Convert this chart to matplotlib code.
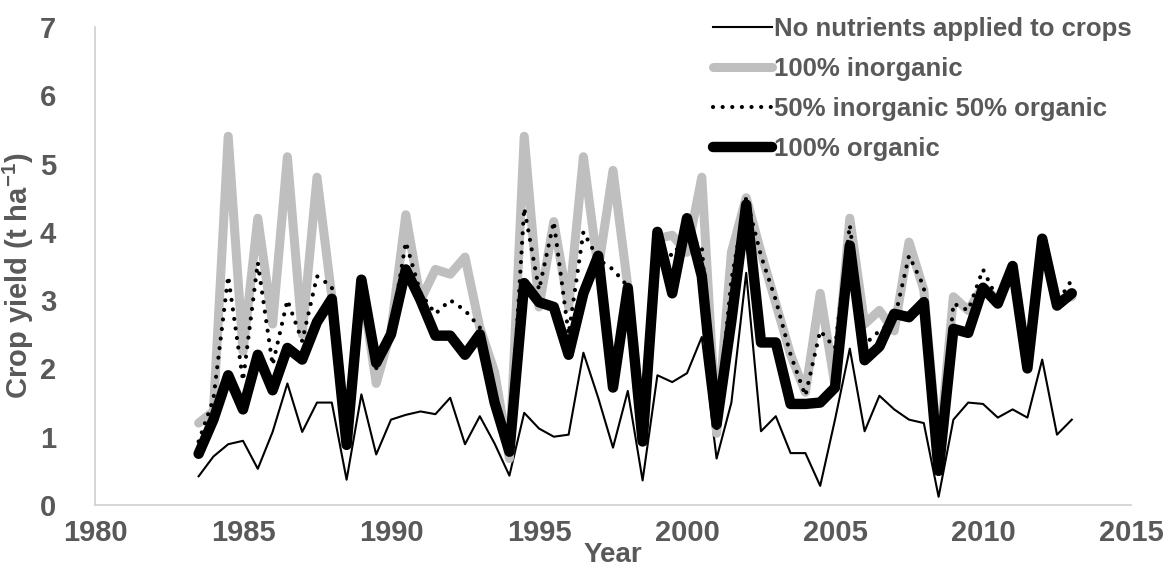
import numpy as np
import matplotlib
matplotlib.use("Agg")
import matplotlib.pyplot as plt

plt.rcParams['font.family'] = ['Liberation Sans', 'DejaVu Sans']
plt.rcParams['font.weight'] = 'bold'
plt.rcParams['mathtext.fontset'] = 'custom'
plt.rcParams['mathtext.rm'] = 'Liberation Sans:bold'
plt.rcParams['mathtext.default'] = 'rm'

# Two cropping seasons per year, 1983.5 to 2013.0
seasons = np.arange(1983.5, 2013.01, 0.5)

no_nutrients = [0.42, 0.71, 0.89, 0.94, 0.53, 1.07, 1.78, 1.07, 1.50, 1.50,
                0.37, 1.62, 0.74, 1.25, 1.32, 1.37, 1.33, 1.57, 0.89, 1.30,
                0.90, 0.43, 1.35, 1.12, 1.00, 1.03, 2.23, 1.57, 0.84, 1.67,
                0.36, 1.90, 1.80, 1.93, 2.46, 0.68, 1.50, 3.40, 1.08, 1.30,
                0.76, 0.76, 0.28, 1.25, 2.29, 1.08, 1.60, 1.40, 1.25, 1.20,
                0.12, 1.25, 1.50, 1.48, 1.28, 1.40, 1.28, 2.13, 1.03, 1.25]

inorganic_100 = [1.20, 1.37, 5.40, 2.25, 4.20, 2.65, 5.10, 2.50, 4.80, 3.05,
                 0.90, 3.25, 1.78, 2.55, 4.25, 3.00, 3.45, 3.38, 3.63, 2.60,
                 1.95, 0.68, 5.40, 2.90, 4.15, 2.90, 5.10, 3.45, 4.90, 3.20,
                 0.95, 3.90, 3.95, 3.70, 4.80, 1.05, 3.70, 4.50, 3.70, 2.95,
                 2.20, 1.65, 3.10, 1.75, 4.20, 2.65, 2.85, 2.55, 3.85, 3.15,
                 0.70, 3.05, 2.85, 3.20, 3.00, 3.50, 2.00, 3.90, 3.00, 3.05]

mixed_50_50 = [0.93, 1.55, 3.35, 1.82, 3.55, 2.05, 3.00, 2.40, 3.35, 3.20,
               0.90, 3.25, 2.00, 2.55, 3.85, 3.10, 2.80, 3.00, 2.85, 2.60,
               1.60, 0.78, 4.35, 3.15, 4.15, 2.50, 4.00, 3.60, 3.45, 3.20,
               0.92, 3.80, 3.65, 3.95, 3.78, 1.10, 3.30, 4.50, 3.65, 3.00,
               2.20, 1.60, 2.55, 2.30, 4.10, 2.35, 2.55, 2.70, 3.65, 3.20,
               0.55, 2.95, 2.85, 3.45, 3.00, 3.50, 2.00, 3.90, 2.95, 3.30]

organic_100 = [0.75, 1.25, 1.90, 1.40, 2.20, 1.68, 2.30, 2.13, 2.68, 3.02,
               0.88, 3.30, 2.08, 2.50, 3.45, 3.00, 2.48, 2.48, 2.20, 2.50,
               1.50, 0.78, 3.25, 2.97, 2.90, 2.20, 3.10, 3.65, 1.72, 3.18,
               0.93, 4.00, 3.10, 4.20, 3.35, 1.18, 2.70, 4.40, 2.38, 2.38,
               1.48, 1.48, 1.50, 1.72, 3.80, 2.12, 2.32, 2.80, 2.75, 2.97,
               0.50, 2.58, 2.52, 3.18, 2.95, 3.50, 2.00, 3.90, 2.92, 3.10]

labels = ["No nutrients applied to crops", "100% inorganic",
          "50% inorganic 50% organic", "100% organic"]

TEXT = '#595959'
AXIS = '#d0d0d0'
W, H = 1164, 570

fig = plt.figure(figsize=(W / 100, H / 100), dpi=100)
ax = fig.add_axes([95 / W, 1 - 505 / H, (1131 - 95) / W, (505 - 27) / H])

ax.plot(seasons, no_nutrients, color='black', lw=1.5, zorder=2, label=labels[0])
ax.plot(seasons, inorganic_100, color='#bfbfbf', lw=6.5, solid_joinstyle='round',
        solid_capstyle='round', zorder=3, label=labels[1])
ax.plot(seasons, mixed_50_50, color='black', lw=3.0, linestyle=(0, (0.01, 2.3)),
        dash_capstyle='round', zorder=4, label=labels[2])
ax.plot(seasons, organic_100, color='black', lw=7.5, solid_joinstyle='round',
        solid_capstyle='round', zorder=5, label=labels[3])

ax.set_xlim(1980, 2015)
ax.set_ylim(0, 7)
ax.set_xticks(range(1980, 2016, 5))
ax.set_yticks(range(0, 8))
ax.tick_params(axis='both', length=0, labelsize=21, labelcolor=TEXT)
ax.tick_params(axis='y', pad=28)
ax.tick_params(axis='x', pad=10)
for s in ['top', 'right']:
    ax.spines[s].set_visible(False)
for s in ['left', 'bottom']:
    ax.spines[s].set_color(AXIS)
    ax.spines[s].set_linewidth(1.2)

ax.set_xlabel('Year', fontsize=20, color=TEXT, fontweight='bold')
ax.xaxis.set_label_coords(0.5, -37 / 478)
ax.set_ylabel(r'Crop yield (t ha$^{-1}$)', fontsize=21, color=TEXT,
              fontweight='bold')
ax.yaxis.set_label_coords(-(95 - 36) / 1036, 0.48)

leg = ax.legend(loc='upper right', bbox_to_anchor=(1132 / W, 1 - 17 / H),
                bbox_transform=fig.transFigure, frameon=False, fontsize=18.5,
                handlelength=2.3, handletextpad=0.1, labelspacing=0.62,
                borderaxespad=0, borderpad=0)
for t in leg.get_texts():
    t.set_color(TEXT)
    t.set_fontweight('bold')

fig.savefig('out.png', dpi=100)
